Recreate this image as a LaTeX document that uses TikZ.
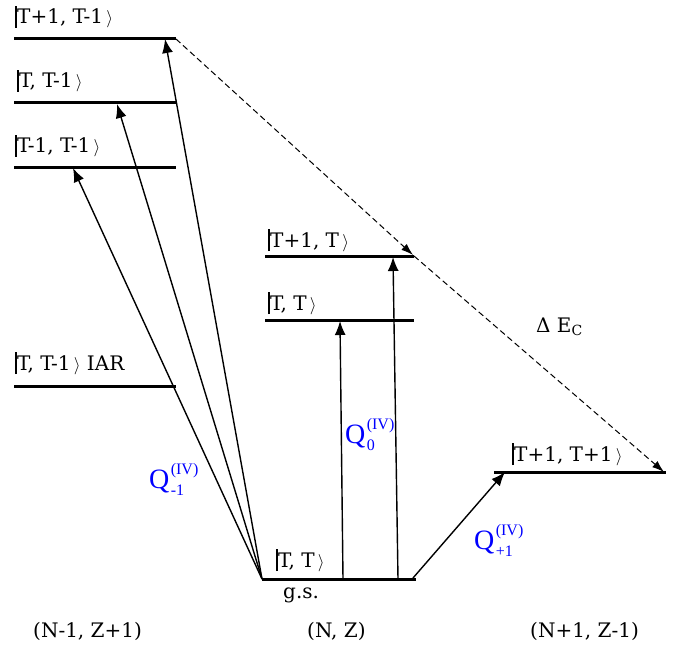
\documentclass[tikz,border=0pt]{standalone}
\usepackage{fontspec}
\setmainfont{DejaVu Serif}
\newfontfamily\qfont{Liberation Serif}
\usetikzlibrary{arrows.meta}
\newcommand\myket[1]{\raisebox{-0.2em}{\rule{0.1em}{1.1em}}#1\,{\fontsize{16}{16}\selectfont$\rangle$}}
\begin{document}
\begin{tikzpicture}[x=1pt,y=-1pt,
  level/.style={line width=3pt},
  trans/.style={line width=1.4pt,-{Latex[length=14pt,width=11pt]}},
  dtrans/.style={line width=1pt,dash pattern=on 6pt off 3.5pt,-{Latex[length=12pt,width=8pt]}},
  lab/.style={font=\fontsize{20}{22}\selectfont,inner sep=0pt,anchor=base west},
  qlab/.style={font=\qfont\fontsize{28}{30}\selectfont,text=blue,inner sep=0pt,anchor=base west},
  qscr/.style={font=\qfont\fontsize{16}{17}\selectfont,text=blue,inner sep=0pt,anchor=base west}]
\useasboundingbox (0,0) rectangle (685,647);
% level end points
\coordinate (a1L) at (14,39);  \coordinate (a1R) at (176,39);
\coordinate (a2L) at (14,103); \coordinate (a2R) at (176,103);
\coordinate (a3L) at (14,168); \coordinate (a3R) at (176,168);
\coordinate (a4L) at (14,386); \coordinate (a4R) at (176,386);
\coordinate (b1L) at (265,256); \coordinate (b1R) at (414,256);
\coordinate (b2L) at (265,320); \coordinate (b2R) at (414,320);
\coordinate (gsL) at (262,579); \coordinate (gsR) at (416,579);
\coordinate (c1L) at (494,472); \coordinate (c1R) at (666,472);
\foreach \p in {a1,a2,a3,a4,b1,b2,gs,c1} \draw[level] (\p L) -- (\p R);
% arrow end points
\coordinate (t1) at (165,39);
\coordinate (t2) at (117,104);
\coordinate (t3) at (73,168);
\coordinate (s0) at (343,579); \coordinate (t0) at (340,321);
\coordinate (s1) at (398,579); \coordinate (t4) at (393,257);
\coordinate (s2) at (413,578); \coordinate (t5) at (505,472);
\coordinate (d1) at (413,255); \coordinate (d2) at (664,472);
\draw[trans] (gsL) -- (t1);
\draw[trans] (gsL) -- (t2);
\draw[trans] (gsL) -- (t3);
\draw[trans] (s0) -- (t0);
\draw[trans] (s1) -- (t4);
\draw[trans] (s2) -- (t5);
\draw[dtrans] (a1R) -- (d1);
\draw[dtrans] (b1R) -- (d2);
% labels
\node[lab] (la1) at (15,24) {\myket{T+1, T-1}};
\node[lab] (la2) at (17,88) {\myket{T, T-1}};
\node[lab] (la3) at (15,153) {\myket{T-1, T-1}};
\node[lab] (la4) at (15,370) {\myket{T, T-1} IAR};
\node[lab] (lb1) at (268,247) {\myket{T+1, T}};
\node[lab] (lb2) at (268,310) {\myket{T, T}};
\node[lab] (lgs) at (276,567) {\myket{T, T}};
\node[lab] (lgs2) at (283,598) {g.s.};
\node[lab] (lc1) at (512,461) {\myket{T+1, T+1}};
\node[lab] (dec) at (536,332) {Δ E\textsubscript{C}};
\node[lab] (n1) at (33,637) {(N-1, Z+1)};
\node[lab] (n2) at (307,637) {(N, Z)};
\node[lab] (n3) at (530,637) {(N+1, Z-1)};
\node[qlab] (q1) at (149,488) {Q};
\node[qscr] (q1a) at ([shift={(1,-14)}]q1.base east) {(IV)};
\node[qscr] (q1b) at ([shift={(1,7)}]q1.base east) {-1};
\node[qlab] (q0) at (345,443) {Q};
\node[qscr] (q0a) at ([shift={(1,-14)}]q0.base east) {(IV)};
\node[qscr] (q0b) at ([shift={(1,7)}]q0.base east) {0};
\node[qlab] (q2) at (474,549) {Q};
\node[qscr] (q2a) at ([shift={(1,-14)}]q2.base east) {(IV)};
\node[qscr] (q2b) at ([shift={(1,7)}]q2.base east) {+1};
\end{tikzpicture}
\end{document}
